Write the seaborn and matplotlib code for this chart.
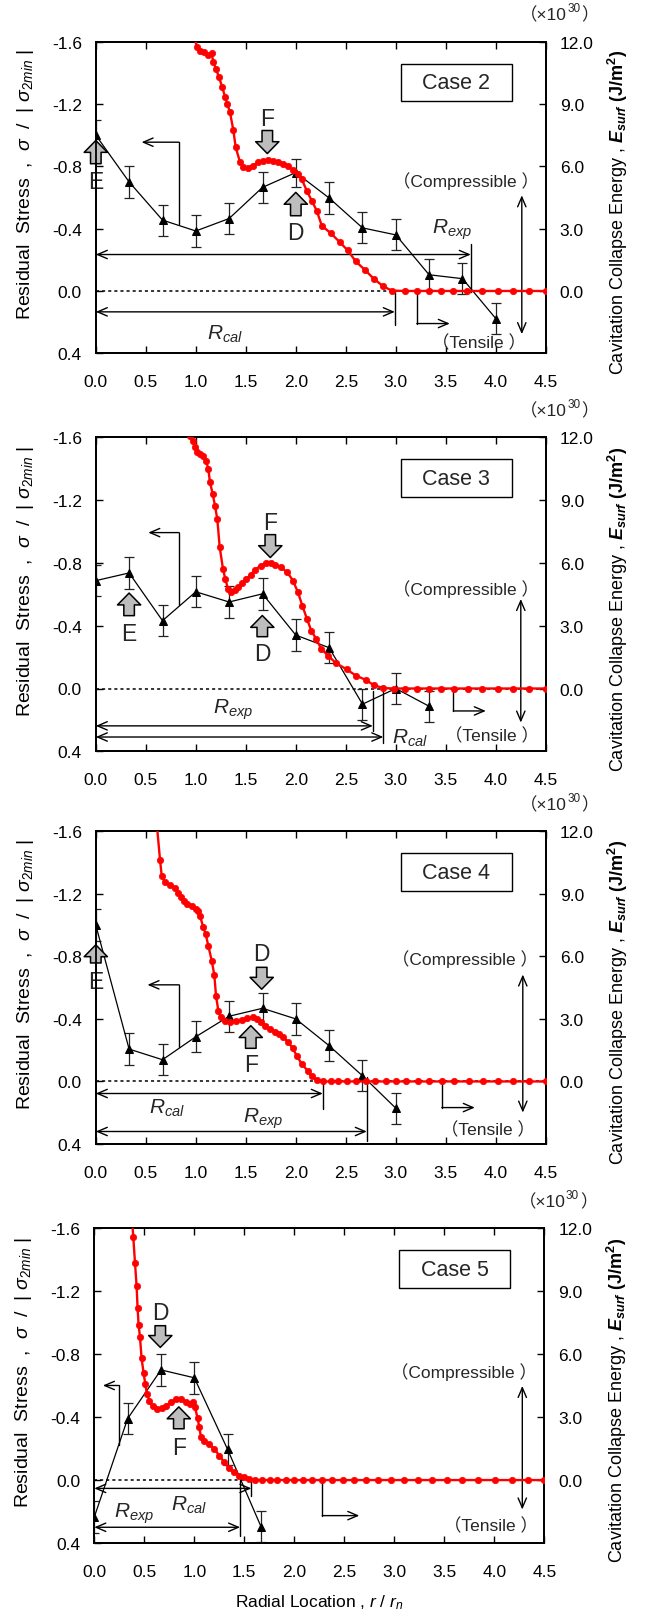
import numpy as np
import matplotlib
matplotlib.use("Agg")
import matplotlib.pyplot as plt
import seaborn as sns
from matplotlib.patches import Rectangle

# ---------------- data ----------------
r_exp = [0.0, 0.333, 0.667, 1.0, 1.333, 1.667, 2.0, 2.333, 2.667, 3.0, 3.333, 3.667, 4.0]

case2_stress = [-1.0, -0.70, -0.455, -0.385, -0.465, -0.665, -0.76, -0.597, -0.405, -0.36, -0.104, -0.079, 0.177]
case2_err = [0.1, 0.1, 0.1, 0.1, 0.1, 0.1, 0.09, 0.1, 0.1, 0.1, 0.1, 0.1, 0.1]
case3_stress = [-0.687, -0.736, -0.432, -0.616, -0.551, -0.603, -0.34, -0.26, 0.10, 0.0, 0.113]
case3_err = [0.1, 0.1, 0.1, 0.1, 0.1, 0.1, 0.1, 0.1, 0.1, 0.1, 0.1]
case4_stress = [-1.0, -0.207, -0.139, -0.286, -0.417, -0.468, -0.40, -0.229, -0.036, 0.171]
case4_err = [0.1, 0.1, 0.1, 0.1, 0.1, 0.1, 0.1, 0.1, 0.1, 0.1]
case5_stress = [0.235, -0.39, -0.70, -0.65, -0.195, 0.296]
case5_err = [0.1, 0.1, 0.1, 0.1, 0.1, 0.1]

case2_r = [0.975, 1.009, 1.042, 1.085, 1.125, 1.159, 1.175, 1.202, 1.232, 1.265, 1.292, 1.315, 1.342,
           1.375, 1.399, 1.442, 1.475, 1.525, 1.575, 1.625, 1.675, 1.725, 1.775, 1.825, 1.875, 1.925,
           1.975, 2.019, 2.059, 2.109, 2.159, 2.209, 2.26, 2.35, 2.44, 2.52, 2.60, 2.69, 2.78, 2.875,
           2.96, 3.09, 3.21, 3.33, 3.45, 3.575, 3.71, 3.86, 4.02, 4.17, 4.33, 4.5]
case2_E = [12.6, 11.73, 11.57, 11.49, 11.38, 11.44, 11.01, 10.69, 10.29, 9.80, 9.36, 9.00, 8.60,
           7.75, 6.92, 6.20, 5.95, 5.92, 6.04, 6.20, 6.27, 6.31, 6.27, 6.20, 6.11, 6.04,
           5.80, 5.63, 5.39, 4.83, 4.35, 3.87, 3.14, 2.78, 2.35, 1.95, 1.42, 1.02, 0.59, 0.22,
           0.02, 0, 0, 0, 0, 0, 0, 0, 0, 0, 0, 0]

case3_r = [0.942, 0.969, 0.992, 1.015, 1.042, 1.075, 1.102, 1.125, 1.142, 1.169, 1.192, 1.215, 1.239,
           1.272, 1.295, 1.322, 1.349, 1.389, 1.422, 1.462, 1.505, 1.549, 1.595, 1.649, 1.699, 1.749,
           1.795, 1.849, 1.915, 1.972, 2.022, 2.065, 2.112, 2.155, 2.205, 2.255, 2.322, 2.40, 2.51,
           2.60, 2.70, 2.78, 2.875, 2.98, 3.09, 3.21, 3.33, 3.45, 3.58, 3.72, 3.86, 4.02, 4.17, 4.33, 4.5]
case3_E = [12.05, 11.84, 11.52, 11.28, 11.20, 11.12, 10.89, 10.49, 9.85, 9.29, 8.73, 8.09, 6.75,
           5.71, 5.23, 4.76, 4.59, 4.72, 4.83, 5.04, 5.23, 5.44, 5.68, 5.87, 6.00, 6.00,
           5.90, 5.79, 5.55, 5.15, 4.59, 3.96, 3.32, 2.76, 2.36, 1.89, 1.57, 1.22, 0.91,
           0.62, 0.41, 0.16, 0.02, 0, 0, 0, 0, 0, 0, 0, 0, 0, 0, 0, 0]

case4_r = [0.605, 0.642, 0.659, 0.692, 0.742, 0.792, 0.825, 0.849, 0.882, 0.915, 0.959, 1.002, 1.025,
           1.042, 1.075, 1.099, 1.125, 1.159, 1.185, 1.202, 1.225, 1.252, 1.292, 1.342, 1.402, 1.459,
           1.515, 1.569, 1.609, 1.649, 1.692, 1.742, 1.792, 1.835, 1.875, 1.925, 1.969, 2.009, 2.059,
           2.12, 2.16, 2.21, 2.27, 2.35, 2.425, 2.51, 2.60, 2.70, 2.79, 2.90, 3.0, 3.10, 3.22, 3.33,
           3.46, 3.58, 3.73, 3.875, 4.02, 4.175, 4.33, 4.5]
case4_E = [12.6, 10.64, 9.87, 9.55, 9.43, 9.26, 9.04, 8.83, 8.67, 8.51, 8.40, 8.27, 8.19,
           7.95, 7.39, 7.07, 6.51, 5.80, 5.11, 4.12, 3.40, 3.08, 2.92, 2.84, 2.92, 2.97,
           3.03, 3.08, 3.00, 2.84, 2.68, 2.52, 2.39, 2.28, 2.12, 1.88, 1.59, 1.24, 0.84,
           0.51, 0.24, 0.08, 0, 0, 0, 0, 0, 0, 0, 0, 0, 0, 0, 0,
           0, 0, 0, 0, 0, 0, 0, 0]

case5_r = [0.375, 0.39, 0.407, 0.423, 0.433, 0.443, 0.457, 0.473, 0.493, 0.510, 0.527, 0.550, 0.583,
           0.627, 0.673, 0.717, 0.767, 0.817, 0.867, 0.917, 0.960, 0.983, 1.007, 1.033, 1.050, 1.067,
           1.10, 1.15, 1.20, 1.25, 1.30, 1.35, 1.40, 1.45, 1.50, 1.55, 1.61, 1.68, 1.76, 1.83, 1.92,
           2.0, 2.09, 2.18, 2.28, 2.38, 2.49, 2.6, 2.72, 2.84, 2.97, 3.1, 3.24, 3.38, 3.53, 3.68,
           3.84, 4.01, 4.18, 4.34, 4.5]
case5_E = [12.6, 11.57, 10.35, 9.24, 8.19, 7.40, 6.80, 5.80, 5.10, 4.58, 4.10, 3.79, 3.52,
           3.39, 3.44, 3.55, 3.71, 3.84, 3.87, 3.71, 3.63, 3.71, 3.47, 2.95, 2.52, 2.04,
           1.88, 1.72, 1.48, 1.17, 0.85, 0.56, 0.37, 0.21, 0.13, 0.03, 0, 0, 0, 0, 0,
           0, 0, 0, 0, 0, 0, 0, 0, 0, 0, 0, 0, 0, 0, 0,
           0, 0, 0, 0, 0]

case_names = ["Case 2", "Case 3", "Case 4", "Case 5"]
x_ticks = [0.0, 0.5, 1.0, 1.5, 2.0, 2.5, 3.0, 3.5, 4.0, 4.5]
left_ticks = [-1.6, -1.2, -0.8, -0.4, 0.0, 0.4]
right_ticks = [0.0, 3.0, 6.0, 9.0, 12.0]

# annotation layout (positions in left-axis data coordinates)
annotations = [
    dict(blocks=[("E", 0.0, -0.817, -0.966, -0.70), ("F", 1.715, -1.03, -0.882, -1.11), ("D", 2.0, -0.483, -0.633, -0.377)],
         left_ind=(0.83, -0.43, -0.955, 0.458), right_ind=(3.21, 0.0, 0.209, 3.54),
         R=[("exp", 3.75, -0.234, -0.302, 0.006, 3.56, -0.398), ("cal", 2.99, 0.134, 0.0, 0.219, 1.29, 0.272)],
         comp=(4.26, -0.614, 0.277, 3.70, -0.71, 3.83, 0.326)),
    dict(blocks=[("E", 0.333, -0.464, -0.608, -0.351), ("F", 1.745, -0.98, -0.834, -1.057), ("D", 1.665, -0.33, -0.465, -0.22)],
         left_ind=(0.834, -0.533, -0.993, 0.525), right_ind=(3.575, 0.0, 0.143, 3.90),
         R=[("exp", 2.77, 0.238, 0.015, 0.27, 1.375, 0.132), ("cal", 2.875, 0.309, 0.0, 0.345, 3.146, 0.313)],
         comp=(4.25, -0.57, 0.217, 3.70, -0.64, 3.96, 0.296)),
    dict(blocks=[("E", 0.0, -0.758, -0.874, -0.641), ("D", 1.659, -0.73, -0.59, -0.818), ("F", 1.55, -0.212, -0.357, -0.108)],
         left_ind=(0.834, -0.22, -0.618, 0.517), right_ind=(3.46, 0.0, 0.167, 3.79),
         R=[("cal", 2.27, 0.077, 0.0, 0.177, 0.71, 0.167), ("exp", 2.71, 0.32, -0.026, 0.38, 1.67, 0.231)],
         comp=(4.27, -0.684, 0.199, 3.69, -0.79, 3.92, 0.306)),
    dict(blocks=[("D", 0.66, -0.981, -0.843, -1.065), ("F", 0.845, -0.326, -0.465, -0.207)],
         left_ind=(0.242, -0.22, -0.601, 0.086), right_ind=(2.28, 0.0, 0.226, 2.65),
         R=[("cal", 1.571, 0.053, 0.0, 0.10, 0.946, 0.155), ("exp", 1.458, 0.30, 0.0, 0.357, 0.40, 0.21)],
         comp=(4.28, -0.598, 0.187, 3.70, -0.694, 3.97, 0.283)),
]

# ---------------- style ----------------
sns.set_theme(style="white")
plt.rcParams['font.family'] = ['Liberation Sans', 'DejaVu Sans', 'Noto Sans CJK JP']
plt.rcParams['mathtext.fontset'] = 'custom'
plt.rcParams['mathtext.rm'] = 'Liberation Sans'
plt.rcParams['mathtext.it'] = 'Liberation Sans:italic'
plt.rcParams['mathtext.bf'] = 'Liberation Sans:bold'
try:
    plt.rcParams['mathtext.bfit'] = 'Liberation Sans:italic:bold'
    BFIT = True
except Exception:
    BFIT = False

fig = plt.figure(figsize=(6.54, 16.15), dpi=100)
fig.patch.set_facecolor('white')

W = 654.0
H = 1615.0
panel_px = [(95.8, 42.7, 354.3), (95.8, 438.3, 752.3), (95.8, 832.3, 1145.0), (94.3, 1229.3, 1544.0)]

stress_list = [case2_stress, case3_stress, case4_stress, case5_stress]
err_list = [case2_err, case3_err, case4_err, case5_err]
rr_list = [case2_r, case3_r, case4_r, case5_r]
E_list = [case2_E, case3_E, case4_E, case5_E]

CJK = ['Liberation Sans', 'DejaVu Sans', 'Noto Sans CJK JP']


def thin_arrow(ax, xy_to, xy_from, style='->'):
    ax.annotate('', xy=xy_to, xytext=xy_from, xycoords='data', textcoords='data',
                arrowprops=dict(arrowstyle=style + ',head_length=0.7,head_width=0.3', color='black',
                                lw=1.0, shrinkA=0, shrinkB=0, mutation_scale=10), zorder=6)


for i in range(4):
    lpx, tpx, bpx = panel_px[i]
    ax = fig.add_axes([lpx / W, 1 - bpx / H, 450.0 / W, (bpx - tpx) / H])
    x_pts = r_exp[:len(stress_list[i])]

    ax.axhline(0.0, color='black', lw=1.1, ls=(0, (2, 2)), zorder=1)
    ax.errorbar(x_pts, stress_list[i], yerr=err_list[i], fmt='none', ecolor='#222222',
                elinewidth=0.9, capsize=3.5, capthick=0.9, zorder=3)
    sns.lineplot(x=x_pts, y=stress_list[i], ax=ax, color='black', lw=0.9, marker='^',
                 markersize=6, markeredgecolor='black', sort=False, estimator=None, zorder=4)
    ax.set_xlim(0, 4.5)
    ax.set_ylim(0.4, -1.6)

    ann = annotations[i]
    for (lab, bx, ytail, ytip, ylab) in ann['blocks']:
        ax.annotate('', xy=(bx, ytip), xytext=(bx, ytail),
                    arrowprops=dict(arrowstyle='simple,head_length=0.45,head_width=0.88,tail_width=0.4',
                                    fc='#bdbdbd', ec='black', lw=1.1, mutation_scale=19,
                                    shrinkA=0, shrinkB=0), zorder=7)
        ax.text(bx, ylab, lab, ha='center', va='center', fontsize=16.5, zorder=7)

    xv, yb, yh, xe = ann['left_ind']
    ax.plot([xv, xv], [yb, yh], color='black', lw=1.0, zorder=6)
    thin_arrow(ax, (xe, yh), (xv, yh))
    xv, yt, yh, xe = ann['right_ind']
    ax.plot([xv, xv], [yt, yh], color='black', lw=1.0, zorder=6)
    thin_arrow(ax, (xe, yh), (xv, yh))

    for (nm, xe, yy, v1, v2, lx, ly) in ann['R']:
        thin_arrow(ax, (xe, yy), (0.0, yy), style='<->')
        ax.plot([xe, xe], [v1, v2], color='black', lw=1.0, zorder=6)
        ax.text(lx, ly, r'$R_{%s}$' % nm, ha='center', va='center', fontsize=15, zorder=7)

    xc, ytop, ybot, cx, cy, tx, ty = ann['comp']
    thin_arrow(ax, (xc, ybot), (xc, ytop), style='<->')
    ax.text(cx, cy, '（Compressible ）', ha='center', va='center', fontsize=12.5, family=CJK, zorder=7)
    ax.text(tx, ty, '（Tensile ）', ha='center', va='center', fontsize=12.5, family=CJK, zorder=7)

    ax.add_patch(Rectangle((3.05, -1.46), 1.11, 0.242, fc='white', ec='black', lw=1.0, zorder=8))
    ax.text(3.605, -1.339, case_names[i], ha='center', va='center', fontsize=15.5, zorder=9)

    # (x10^30) note above the right axis
    ax.text(4.71, -1.775, '（×10', ha='right', va='center', fontsize=12.5, family=CJK, clip_on=False)
    ax.annotate('30', xy=(4.71, -1.775), xytext=(0.5, 4.5), textcoords='offset points',
                ha='left', va='center', fontsize=8.5, annotation_clip=False)
    ax.annotate('）', xy=(4.71, -1.775), xytext=(10.5, 0), textcoords='offset points',
                ha='left', va='center', fontsize=12.5, family=CJK, annotation_clip=False)

    ax.set_xticks(x_ticks)
    ax.set_xticklabels(['%.1f' % v for v in x_ticks])
    ax.set_yticks(left_ticks)
    ax.set_yticklabels(['%.1f' % v for v in left_ticks])
    ax.tick_params(axis='x', direction='in', top=True, bottom=True, length=5, width=1.0,
                   pad=15, labelsize=12.5, colors='black')
    ax.tick_params(axis='y', direction='in', left=True, length=5, width=1.0, pad=10,
                   labelsize=12.5, colors='black')
    ax.set_ylabel(r'Residual  Stress  ,  $\sigma$  /  $|$ $\sigma_{2min}$ $|$', fontsize=14, color='black')
    ax.yaxis.set_label_coords(-0.133, 0.545)
    if i == 3:
        ax.set_xlabel(r'Radial Location , $r$ / $r_n$', fontsize=12.5, color='black')
        ax.xaxis.set_label_coords(0.5, -0.158)
    else:
        ax.set_xlabel('')

    ax2 = ax.twinx()
    sns.lineplot(x=rr_list[i], y=E_list[i], ax=ax2, color='#ff0000', lw=1.7, marker='o',
                 markersize=4.6, markeredgecolor='#ff0000', markeredgewidth=0.5,
                 sort=False, estimator=None, zorder=5)
    ax2.set_ylim(-3.0, 12.0)
    ax2.set_xlim(0, 4.5)
    ax2.set_yticks(right_ticks)
    ax2.set_yticklabels(['%.1f' % v for v in right_ticks])
    ax2.tick_params(axis='y', direction='in', right=True, length=5, width=1.0, pad=10,
                    labelsize=12.5, colors='black')
    if BFIT:
        rlab = r'Cavitation Collapse Energy , $\mathbfit{E}_{\mathbfit{surf}}$ $\mathbf{(J/m^2)}$'
    else:
        rlab = r'Cavitation Collapse Energy , $\mathit{E}_{surf}$ $\mathbf{(J/m^2)}$'
    ax2.set_ylabel(rlab, fontsize=13, color='black')
    ax2.yaxis.set_label_coords(1.134, 0.455)
    ax2.set_xlabel('')

    for a in (ax, ax2):
        for sp in a.spines.values():
            sp.set_visible(True)
            sp.set_color('black')
            sp.set_linewidth(1.3)

fig.savefig('out.png', dpi=100, facecolor='white')
